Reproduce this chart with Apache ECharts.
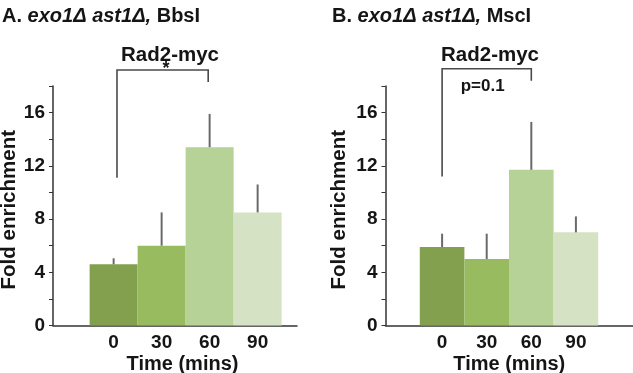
<!DOCTYPE html>
<html>
<head>
<meta charset="utf-8">
<script src="https://cdn.jsdelivr.net/npm/echarts@6/dist/echarts.min.js"></script>
<style>
  html, body { margin: 0; padding: 0; background: #fff; }
  #chart { width: 633px; height: 373px; }
</style>
</head>
<body>
<div id="chart"></div>
<script>
// time points (mins)
var times = ['0', '30', '60', '90'];
// panel A: exo1Δ ast1Δ, BbsI
var meanA = [4.6, 6.0, 13.4, 8.5];
var errA = [0.45, 2.5, 2.5, 2.1];
// panel B: exo1Δ ast1Δ, MscI
var meanB = [5.9, 5.0, 11.7, 7.0];
var errB = [1.0, 1.9, 3.6, 1.2];
// brackets: [x from, x to, left foot, top, right foot]
var bracketA = [0.07, 1.97, 11.1, 19.2, 18.3];
var bracketB = [0, 2, 11.2, 19.3, 18.4];
// labelled y ticks
var yTicks = [0, 4, 8, 12, 16];

var barColors = ['#83a04f', '#98bb60', '#b6d296', '#d5e3c4'];
var FONT = '"Liberation Sans", Arial, sans-serif';
var INK = '#151515';

var chart = echarts.init(document.getElementById('chart'), null, { renderer: 'canvas' });

function xAxis(idx, min, max, namePad) {
  return {
    gridIndex: idx,
    type: 'value',
    min: min,
    max: max,
    name: 'Time (mins)',
    nameLocation: 'middle',
    nameGap: 29,
    nameMoveOverlap: false,
    nameTextStyle: { fontFamily: FONT, fontWeight: 'bold', fontSize: 20, color: INK, padding: namePad },
    axisLine: { onZero: false, lineStyle: { color: '#333', width: 1.5 } },
    axisTick: { show: false },
    splitLine: { show: false },
    axisLabel: {
      customValues: [0, 1, 2, 3],
      formatter: function (v) { return times[v]; },
      fontFamily: FONT, fontWeight: 'bold', fontSize: 19, color: INK, margin: 8
    }
  };
}

function yAxis(idx, gap) {
  return {
    gridIndex: idx,
    type: 'value',
    min: 0,
    max: 18,
    interval: 2,
    name: 'Fold enrichment',
    nameLocation: 'middle',
    nameGap: gap,
    nameTextStyle: { fontFamily: FONT, fontWeight: 'bold', fontSize: 20.5, color: INK, padding: [0, 8, 0, 0] },
    axisLine: { show: true, onZero: false, lineStyle: { color: '#333', width: 1.5 } },
    axisTick: { show: true, length: 4, lineStyle: { color: '#333' } },
    splitLine: { show: false },
    axisLabel: {
      formatter: function (v) { return yTicks.indexOf(v) >= 0 ? String(v) : ''; },
      fontFamily: FONT, fontWeight: 'bold', fontSize: 19, color: INK, margin: 8
    }
  };
}

function barSeries(idx, means, width) {
  return {
    type: 'bar',
    xAxisIndex: idx,
    yAxisIndex: idx,
    barWidth: width,
    silent: true,
    data: means.map(function (v, i) {
      return { value: [i, v], itemStyle: { color: barColors[i] } };
    })
  };
}

function errSeries(idx, means, errs) {
  return {
    type: 'custom',
    xAxisIndex: idx,
    yAxisIndex: idx,
    silent: true,
    z: 3,
    encode: { x: 0, y: 1 },
    data: means.map(function (v, i) { return [i, v, errs[i]]; }),
    renderItem: function (params, api) {
      var x = api.value(0), y = api.value(1);
      var a = api.coord([x, y]);
      var b = api.coord([x, y + api.value(2)]);
      return {
        type: 'line',
        shape: { x1: a[0], y1: a[1], x2: b[0], y2: b[1] },
        style: { stroke: '#6a6a6a', lineWidth: 2 }
      };
    }
  };
}

function bracketSeries(idx, br, label, fontSize, dx, dy) {
  return {
    type: 'custom',
    xAxisIndex: idx,
    yAxisIndex: idx,
    silent: true,
    clip: false,
    encode: { x: [0, 1], y: [2, 3, 4] },
    data: [br],
    renderItem: function (params, api) {
      var p1 = api.coord([api.value(0), api.value(2)]);
      var p2 = api.coord([api.value(0), api.value(3)]);
      var p3 = api.coord([api.value(1), api.value(3)]);
      var p4 = api.coord([api.value(1), api.value(4)]);
      return {
        type: 'group',
        children: [
          {
            type: 'polyline',
            shape: { points: [p1, p2, p3, p4] },
            style: { stroke: '#4a4a4a', lineWidth: 1.6, fill: null }
          },
          {
            type: 'text',
            x: (p2[0] + p3[0]) / 2 + dx,
            y: p2[1] + dy,
            style: {
              text: label, align: 'center', verticalAlign: 'middle',
              fontFamily: FONT, fontWeight: 'bold', fontSize: fontSize, fill: INK
            }
          }
        ]
      };
    }
  };
}

function panelTitle(left, letter, enzyme) {
  return {
    left: left,
    top: 1,
    text: '{n|' + letter + ' }{i|exo1Δ ast1Δ,}{n| ' + enzyme + '}',
    textStyle: {
      rich: {
        n: { fontFamily: FONT, fontWeight: 'bold', fontSize: 20, color: INK },
        i: { fontFamily: FONT, fontWeight: 'bold', fontStyle: 'italic', fontSize: 20, color: INK }
      }
    }
  };
}

function subTitle(left) {
  return {
    left: left,
    top: 40,
    textAlign: 'center',
    text: 'Rad2-myc',
    textStyle: { fontFamily: FONT, fontWeight: 'bold', fontSize: 20.5, color: INK }
  };
}

chart.setOption({
  backgroundColor: '#fff',
  animation: false,
  title: [
    panelTitle(-3, 'A.', 'BbsI'),
    panelTitle(327, 'B.', 'MscI'),
    subTitle(165),
    subTitle(485)
  ],
  grid: [
    { left: 53, top: 86, width: 244, height: 239.5, outerBoundsMode: 'none' },
    { left: 385.5, top: 86, width: 247.5, height: 239.5, outerBoundsMode: 'none' }
  ],
  xAxis: [
    xAxis(0, -1.263, 3.82, [0, 0, 0, 15]),
    xAxis(1, -1.269, 4.28, [0, 0, 0, 0])
  ],
  yAxis: [yAxis(0, 29), yAxis(1, 35.5)],
  series: [
    barSeries(0, meanA, 48),
    errSeries(0, meanA, errA),
    bracketSeries(0, bracketA, '*', 18, 3.5, -1),
    barSeries(1, meanB, 44.6),
    errSeries(1, meanB, errB),
    bracketSeries(1, bracketB, 'p=0.1', 17, -4, 18)
  ]
});
</script>
</body>
</html>
